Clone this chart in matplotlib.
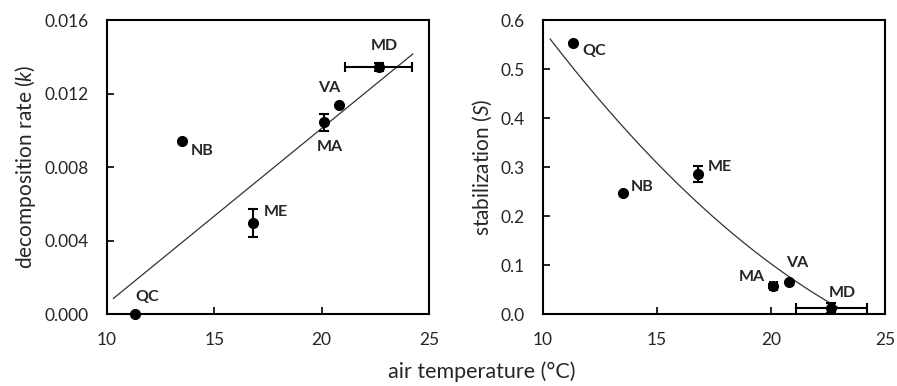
import numpy as np
import matplotlib
matplotlib.use("Agg")
import matplotlib.pyplot as plt

plt.rcParams['font.family'] = ['Lato', 'DejaVu Sans']
plt.rcParams['mathtext.fontset'] = 'custom'
plt.rcParams['mathtext.it'] = 'Lato:italic'
plt.rcParams['mathtext.rm'] = 'Lato'

# sites and air temperature
sites = ['QC', 'NB', 'ME', 'MA', 'VA', 'MD']
temp = [11.3, 13.5, 16.8, 20.1, 20.8, 22.65]

# left panel: decomposition rate k
k_val = [0.0, 0.00943, 0.00497, 0.01043, 0.01136, 0.01346]
k_err = [0.0, 0.0, 0.00076, 0.00045, 0.0, 0.00022]
temp_err_k = [0.0, 0.0, 0.0, 0.0, 0.0, 1.55]
k_fit_x = [10.3, 24.24]
k_fit_y = [0.00085, 0.01415]
k_lab_x = [11.85, 14.41, 17.85, 20.36, 20.36, 22.92]
k_lab_y = [0.00094, 0.00889, 0.00555, 0.00907, 0.01228, 0.0146]

# right panel: stabilization S
s_val = [0.5535, 0.2464, 0.286, 0.0573, 0.0662, 0.0117]
s_err = [0.0, 0.0, 0.016, 0.004, 0.0, 0.01]
temp_err_s = [0.0, 0.0, 0.0, 0.15, 0.0, 1.55]
# points
s_fit_x = [10.31, 11.62, 12.79, 14.25, 15.71, 16.59, 17.62, 19.08, 20.54, 22.0, 22.81, 22.94]
s_fit_y = [0.575, 0.486, 0.404, 0.329, 0.274, 0.240, 0.199, 0.141, 0.0936, 0.0457, 0.0117, 0.002]
s_lab_x = [12.25, 14.36, 17.76, 19.15, 21.17, 23.13]
s_lab_y = [0.537, 0.2595, 0.3004, 0.0764, 0.1038, 0.0436]

fig = plt.figure(figsize=(8.97, 3.86), dpi=100)
ax1 = fig.add_axes([0.1193, 0.1865, 0.359, 0.7615])
ax2 = fig.add_axes([0.6054, 0.1865, 0.3812, 0.7615])

txt_col = '#262626'


def style(ax):
    for s in ax.spines.values():
        s.set_linewidth(1.5)
    ax.tick_params(direction='in', length=5, width=1.2, pad=13,
                   labelsize=12.5, colors=txt_col)
    ax.tick_params(axis='both', color='black')
    ax.set_xlim(10, 25)
    ax.set_xticks([10, 15, 20, 25])


ax1.plot(k_fit_x, k_fit_y, color='#333333', lw=0.9)
ax1.errorbar(temp, k_val, yerr=k_err, xerr=temp_err_k, fmt='o', color='black',
             ms=7, elinewidth=1.5, capsize=3.5, capthick=1.5, clip_on=False, zorder=3)
for name, x, y in zip(sites, k_lab_x, k_lab_y):
    ax1.text(x, y, name, ha='center', va='center', fontsize=11.5,
             fontweight='bold', color=txt_col)
style(ax1)
ax1.set_ylim(0, 0.016)
ax1.set_yticks([0, 0.004, 0.008, 0.012, 0.016])
ax1.set_yticklabels(['0.000', '0.004', '0.008', '0.012', '0.016'])
ax1.set_ylabel('decomposition rate ($\\mathit{k}$)', fontsize=15, color=txt_col, labelpad=5)

# smooth trend through the read curve points
coef = np.polyfit(s_fit_x, s_fit_y, 2)
xs = np.linspace(min(s_fit_x), max(s_fit_x), 200)
ax2.plot(xs, np.polyval(coef, xs), color='#333333', lw=0.9)
ax2.errorbar(temp, s_val, yerr=s_err, xerr=temp_err_s, fmt='o', color='black',
             ms=7, elinewidth=1.5, capsize=3.5, capthick=1.5, clip_on=False, zorder=3)
for name, x, y in zip(sites, s_lab_x, s_lab_y):
    ax2.text(x, y, name, ha='center', va='center', fontsize=11.5,
             fontweight='bold', color=txt_col)
style(ax2)
ax2.set_ylim(0, 0.6)
ax2.set_yticks(np.arange(0, 0.61, 0.1))
ax2.set_yticklabels(['0.0', '0.1', '0.2', '0.3', '0.4', '0.5', '0.6'])
ax2.set_ylabel('stabilization ($\\mathit{S}$)', fontsize=15, color=txt_col, labelpad=5)

fig.text(0.537, 0.036, 'air temperature (\u00b0C)', ha='center', va='center',
         fontsize=15.5, color=txt_col)

fig.savefig('out.png', dpi=100)
